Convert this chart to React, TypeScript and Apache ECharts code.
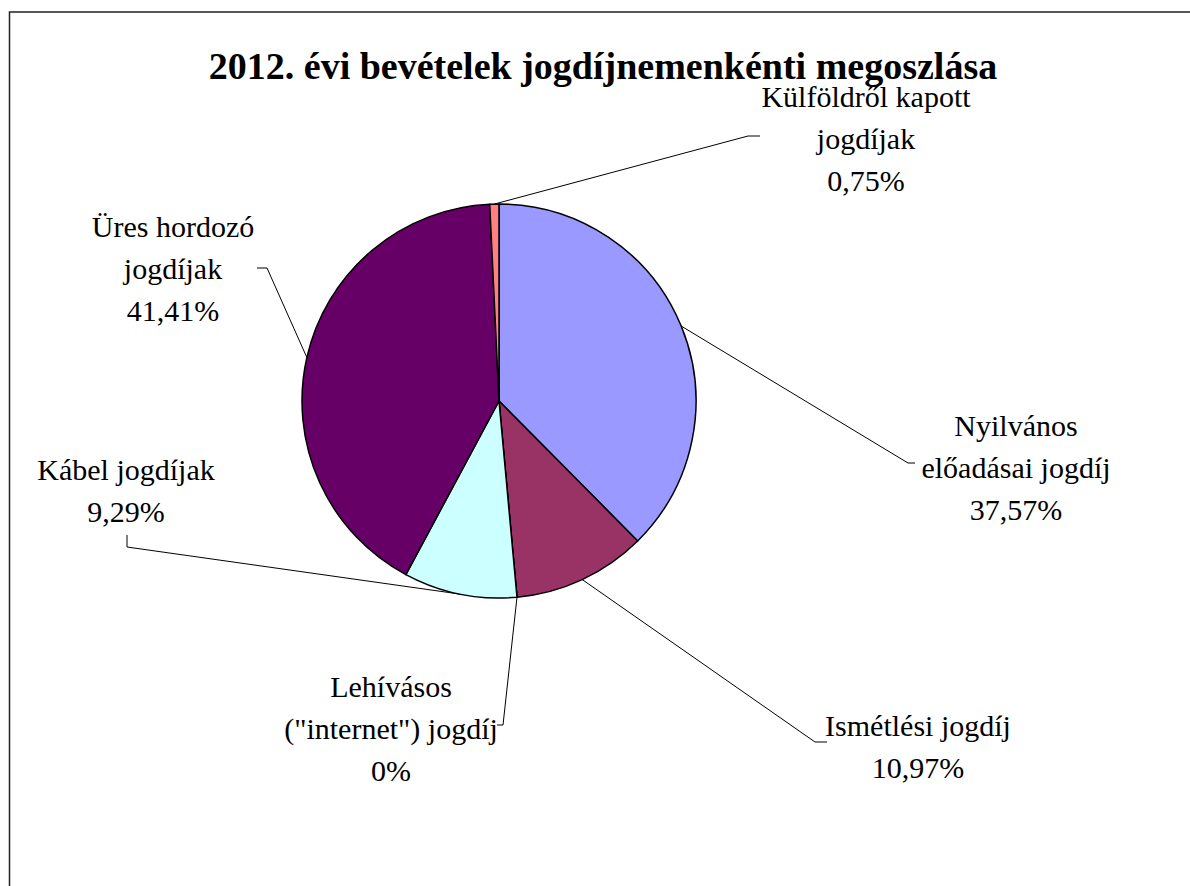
import React, { useEffect, useRef } from "react";
import * as echarts from "echarts";

const TITLE = "2012. évi bevételek jogdíjnemenkénti megoszlása";
const categories = [
  "Nyilvános\nelőadásai jogdíj",
  "Ismétlési jogdíj",
  "Lehívásos\n(\"internet\") jogdíj",
  "Kábel jogdíjak",
  "Üres hordozó\njogdíjak",
  "Külföldről kapott\njogdíjak",
];
const values = [37.57, 10.97, 0, 9.29, 41.41, 0.75];
const colors = ["#9999FF", "#993366", "#FFFFCC", "#CCFFFF", "#660066", "#FF8080"];

// label layout (block centre) and leader-line bend/end points
const labelPos = [
  [1016, 467],
  [918, 746],
  [391, 728],
  [126, 490],
  [173, 268],
  [866, 138],
];
const leaderBend = [
  [[908, 463], [915, 463]],
  [[815, 742], [827, 742]],
  [[503, 725], [497, 725]],
  [[127, 547], [127, 535]],
  [[267, 268], [257, 268]],
  [[748, 136], [760, 136]],
];

const FONT = "Liberation Serif";
const LINE_H = 42;

export default function App() {
  const ref = useRef<HTMLDivElement>(null);
  useEffect(() => {
    if (!ref.current) return;
    const chart = echarts.init(ref.current, null, { renderer: "svg" });
    const fmt = (v: number) => String(v).replace(".", ",") + "%";
    const labelTexts: any[] = [];
    categories.forEach((c, i) => {
      const lines = (c + "\n" + fmt(values[i])).split("\n");
      const n = lines.length;
      lines.forEach((line, k) => {
        labelTexts.push({
          type: "text",
          x: labelPos[i][0],
          y: labelPos[i][1] + (k - (n - 1) / 2) * LINE_H,
          silent: true,
          style: {
            text: line,
            fontFamily: FONT,
            fontSize: 30,
            fill: "#000",
            align: "center",
            verticalAlign: "middle",
          },
        });
      });
    });
    chart.setOption({
      animation: false,
      backgroundColor: "#ffffff",
      textStyle: { fontFamily: FONT },
      title: {
        text: TITLE,
        left: 598,
        textAlign: "center",
        top: 42,
        textStyle: { fontFamily: FONT, fontWeight: "bold", fontSize: 38, color: "#000" },
      },
      graphic: [
        {
          type: "rect",
          shape: { x: 9.5, y: 12, width: 1200, height: 900 },
          style: { fill: "none", stroke: "#222", lineWidth: 1.5 },
          silent: true,
        },
        ...labelTexts,
      ],
      series: [
        {
          type: "pie",
          center: [499, 401],
          radius: 197,
          startAngle: 90,
          clockwise: true,
          avoidLabelOverlap: false,
          minShowLabelAngle: 0,
          stillShowZeroSum: true,
          itemStyle: { borderColor: "#000", borderWidth: 1.5 },
          emphasis: { disabled: true },
          label: {
            show: true,
            position: "outside",
            formatter: () => " ",
            fontSize: 2,
            color: "rgba(0,0,0,0)",
            textBorderWidth: 0,
          },
          labelLine: {
            show: true,
            length: 20,
            length2: 10,
            lineStyle: { color: "#000", width: 1 },
          },
          labelLayout: (params: any) => {
            const i = params.dataIndex;
            const start = params.labelLinePoints ? params.labelLinePoints[0] : null;
            const res: any = {
              x: leaderBend[i][1][0],
              y: leaderBend[i][1][1],
            };
            if (start) res.labelLinePoints = [start, leaderBend[i][0], leaderBend[i][1]];
            return res;
          },
          data: categories.map((c, i) => ({
            name: c,
            value: values[i],
            itemStyle: { color: colors[i] },
          })),
        },
      ],
    });
    return () => chart.dispose();
  }, []);
  return (
    <div ref={ref} style={{ position: "fixed", left: 0, top: 0, width: 1190, height: 886 }} />
  );
}
